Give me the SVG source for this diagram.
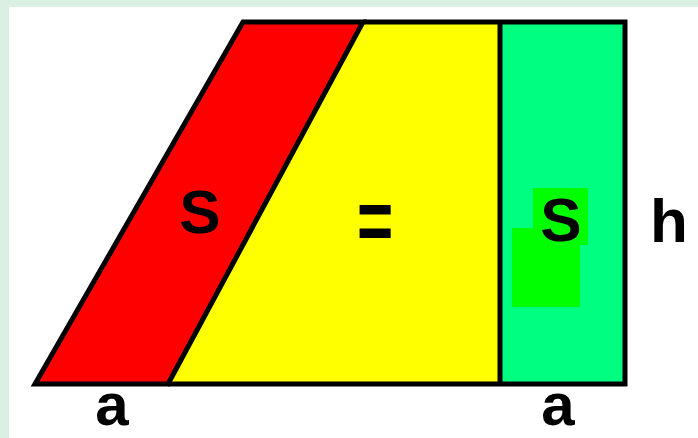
<svg xmlns="http://www.w3.org/2000/svg" width="698" height="438" viewBox="0 0 698 438">
  <style>
    .lbl { font-family: "Liberation Sans", Arial, sans-serif; font-weight: bold; font-size: 62px; fill: #000; }
    .small { font-size: 60px; }
    .edge { stroke: #000; stroke-width: 5; stroke-linejoin: miter; }
  </style>
  <rect x="0" y="0" width="698" height="438" fill="#daf0e2"/>
  <rect x="9" y="7" width="689" height="431" fill="#ffffff"/>

  <g id="yellow-region">
    <polygon points="363,22 500,22 500,384 168,384" fill="#ffff00"/>
  </g>
  <g id="red-parallelogram">
    <polygon points="35,384 243,22 363,22 168,384" fill="#ff0000" class="edge"/>
    <text class="lbl" x="200" y="233" text-anchor="middle">S</text>
  </g>
  <g id="green-rectangle">
    <rect x="500" y="22" width="125" height="362" fill="#00ff80"/>
    <path d="M533,188 H588 V245 H580 V307 H512 V228 H533 Z" fill="#00ff00"/>
    <text class="lbl" x="561" y="241" text-anchor="middle">S</text>
  </g>
  <g id="outline" fill="none" class="edge">
    <polyline points="168,384 625,384 625,22 363,22" class="edge" fill="none"/>
    <line x1="500" y1="22" x2="500" y2="384" class="edge"/>
  </g>
  <g id="equals">
    <text class="lbl" x="375" y="0" text-anchor="middle" transform="translate(0,250) scale(1,1.4)">=</text>
  </g>
  <g id="labels">
    <text class="lbl" x="669" y="242" text-anchor="middle">h</text>
    <text class="lbl small" x="112" y="425" text-anchor="middle">a</text>
    <text class="lbl small" x="558" y="425" text-anchor="middle">a</text>
  </g>
</svg>
